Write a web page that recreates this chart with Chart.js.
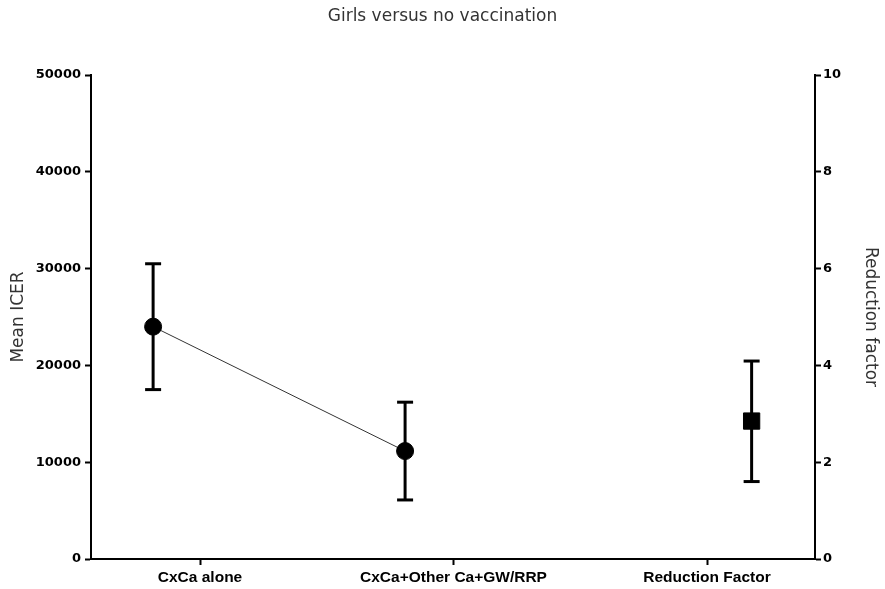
<!DOCTYPE html>
<html>
<head>
<meta charset="utf-8">
<title>Girls versus no vaccination</title>
<script src="https://cdn.jsdelivr.net/npm/chart.js@4/dist/chart.umd.min.js"></script>
<style>
    html, body { margin: 0; padding: 0; background: #fff; }
    #chartBox { width: 885px; height: 589px; }
</style>
</head>
<body>
<div id="chartBox"><canvas id="icerChart" width="885" height="589"></canvas></div>
<script>
// Values
const categories = ['CxCa alone', 'CxCa+Other Ca+GW/RRP', 'Reduction Factor'];
const categoryPos = [0, 1, 2];

// x placement of the plotted groups on the category axis
const icerX = [-0.185, 0.809];
const meanIcer = [24000, 11150];
const icerLow = [17500, 6100];
const icerHigh = [30500, 16200];

const reductionX = [2.176];
const reductionFactor = [2.85];
const reductionLow = [1.60];
const reductionHigh = [4.09];

const icerTicks = [0, 10000, 20000, 30000, 40000, 50000];
const factorTicks = [0, 2, 4, 6, 8, 10];

const INK = '#000';

// Error bar = two-point line with flat caps drawn as 'line' point style
function errorBar(x, low, high, axis) {
    return {
        data: [{ x: x, y: low }, { x: x, y: high }],
        yAxisID: axis,
        showLine: true,
        borderColor: INK,
        borderWidth: 3,
        pointStyle: 'line',
        pointRadius: 8,
        pointBorderWidth: 3,
        pointBorderColor: INK,
        order: 2
    };
}

const datasets = [];

datasets.push({
    data: icerX.map((x, i) => ({ x: x, y: meanIcer[i] })),
    yAxisID: 'y',
    showLine: true,
    borderColor: '#333',
    borderWidth: 1,
    pointStyle: 'circle',
    pointRadius: 8.5,
    pointBackgroundColor: INK,
    pointBorderColor: INK,
    pointBorderWidth: 1,
    order: 1
});
icerX.forEach((x, i) => datasets.push(errorBar(x, icerLow[i], icerHigh[i], 'y')));

datasets.push({
    data: reductionX.map((x, i) => ({ x: x, y: reductionFactor[i] })),
    yAxisID: 'y1',
    showLine: false,
    pointStyle: 'rect',
    pointRadius: 11.5,
    pointBackgroundColor: INK,
    pointBorderColor: INK,
    pointBorderWidth: 1,
    order: 1
});
reductionX.forEach((x, i) => datasets.push(errorBar(x, reductionLow[i], reductionHigh[i], 'y1')));

const tickFont = { family: 'DejaVu Sans', weight: 'bold', size: 13 };
const titleFont = { family: 'DejaVu Sans', weight: 'normal', size: 17 };

const axisGrid = {
    display: true,
    drawOnChartArea: false,
    drawTicks: true,
    tickLength: 6,
    tickWidth: 2,
    tickColor: INK
};
const axisBorder = { display: true, color: INK, width: 2 };

new Chart(document.getElementById('icerChart').getContext('2d'), {
    type: 'scatter',
    data: { datasets: datasets },
    options: {
        responsive: false,
        animation: false,
        events: [],
        layout: { padding: 0 },
        plugins: {
            legend: { display: false },
            tooltip: { enabled: false },
            title: {
                display: true,
                text: 'Girls versus no vaccination',
                color: '#333',
                font: titleFont,
                padding: { top: 6, bottom: 48.6 }
            }
        },
        scales: {
            x: {
                type: 'linear',
                min: -0.43,
                max: 2.426,
                grid: axisGrid,
                border: axisBorder,
                afterBuildTicks: s => { s.ticks = categoryPos.map(v => ({ value: v })); },
                afterFit: s => { s.height = 30; },
                ticks: {
                    autoSkip: false,
                    maxRotation: 0,
                    padding: 3,
                    color: INK,
                    font: { family: 'Liberation Sans', weight: 'bold', size: 15.5 },
                    callback: v => categories[categoryPos.indexOf(v)]
                }
            },
            y: {
                position: 'left',
                min: 0,
                max: 50000,
                grid: axisGrid,
                border: axisBorder,
                afterBuildTicks: s => { s.ticks = icerTicks.map(v => ({ value: v })); },
                afterFit: s => { s.width = 91; },
                ticks: {
                    padding: 4,
                    color: INK,
                    font: tickFont,
                    callback: v => String(v)
                },
                title: {
                    display: true,
                    text: 'Mean ICER',
                    color: '#333',
                    font: titleFont,
                    padding: { top: 8.8, bottom: 0 }
                }
            },
            y1: {
                position: 'right',
                min: 0,
                max: 10,
                grid: axisGrid,
                border: axisBorder,
                afterBuildTicks: s => { s.ticks = factorTicks.map(v => ({ value: v })); },
                afterFit: s => { s.width = 70; },
                ticks: {
                    padding: 2,
                    color: INK,
                    font: tickFont,
                    callback: v => String(v)
                },
                title: {
                    display: true,
                    text: 'Reduction factor',
                    color: '#333',
                    font: titleFont,
                    padding: { top: 4.8, bottom: 0 }
                }
            }
        }
    }
});
</script>
</body>
</html>
